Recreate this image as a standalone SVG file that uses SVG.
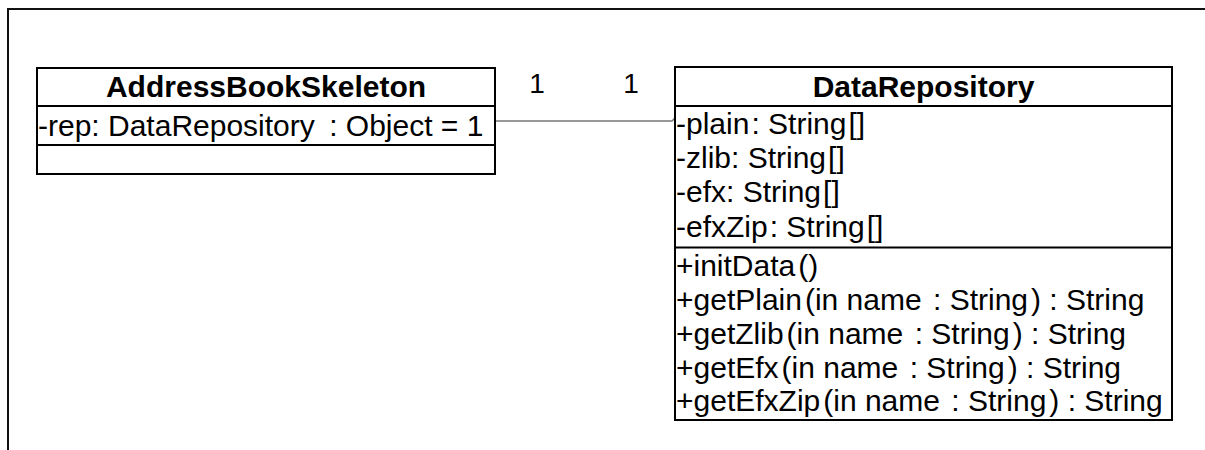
<svg xmlns="http://www.w3.org/2000/svg" width="1205" height="450" viewBox="0 0 1205 450">
  <style>
    .frame { fill: none; stroke: #111; stroke-width: 2; }
    .box { fill: #fff; stroke: #000; stroke-width: 2; }
    .sep { stroke: #000; stroke-width: 2; }
    .link { fill: none; stroke: #777; stroke-width: 1.5; }
    .title { font-family: "Liberation Sans", Arial, sans-serif; font-size: 30px; font-weight: bold; fill: #000; text-anchor: middle; }
    .member { font-family: "Liberation Sans", Arial, sans-serif; font-size: 30px; fill: #000; }
    .mult { font-family: "Liberation Sans", Arial, sans-serif; font-size: 28px; fill: #000; text-anchor: middle; }
  </style>
  <rect width="1205" height="450" fill="#fff"/>
  <!-- diagram frame -->
  <path class="frame" d="M8,450 V9 H1206"/>

  <!-- association -->
  <g id="connectors">
    <polyline class="link" points="495,121 672,121 675,118"/>
    <text class="mult" x="537" y="93">1</text>
    <text class="mult" x="631" y="93">1</text>
  </g>

  <g id="AddressBookSkeleton">
    <rect class="box" x="37" y="68" width="458" height="106"/>
    <line class="sep" x1="37" y1="106" x2="495" y2="106"/>
    <line class="sep" x1="37" y1="145" x2="495" y2="145"/>
    <text class="title" x="266" y="97">AddressBookSkeleton</text>
    <text class="member" x="38" y="136">-rep: DataRepository<tspan dx="6"> : Object = 1</tspan></text>
  </g>

  <g id="DataRepository">
    <rect class="box" x="675" y="67" width="497" height="353"/>
    <line class="sep" x1="675" y1="106" x2="1172" y2="106"/>
    <line class="sep" x1="675" y1="247.5" x2="1172" y2="247.5"/>
    <text class="title" x="923.5" y="97">DataRepository</text>
    <text class="member" x="676" y="134">-plain<tspan dx="2">: String</tspan><tspan dx="2">[]</tspan></text>
    <text class="member" x="676" y="168">-zlib: String<tspan dx="2">[]</tspan></text>
    <text class="member" x="676" y="202">-efx: String<tspan dx="2">[]</tspan></text>
    <text class="member" x="676" y="237">-efxZip<tspan dx="2">: String</tspan><tspan dx="2">[]</tspan></text>
    <text class="member" x="676" y="276">+initData<tspan dx="3">()</tspan></text>
    <text class="member" x="676" y="310">+getPlain<tspan dx="3">(in name</tspan><tspan dx="3"> : String</tspan><tspan dx="3">) : String</tspan></text>
    <text class="member" x="676" y="344">+getZlib<tspan dx="3">(in name</tspan><tspan dx="3"> : String</tspan><tspan dx="3">) : String</tspan></text>
    <text class="member" x="676" y="378">+getEfx<tspan dx="3">(in name</tspan><tspan dx="3"> : String</tspan><tspan dx="3">) : String</tspan></text>
    <text class="member" x="676" y="411">+getEfxZip<tspan dx="3">(in name</tspan><tspan dx="3"> : String</tspan><tspan dx="3">) : String</tspan></text>
  </g>
</svg>
